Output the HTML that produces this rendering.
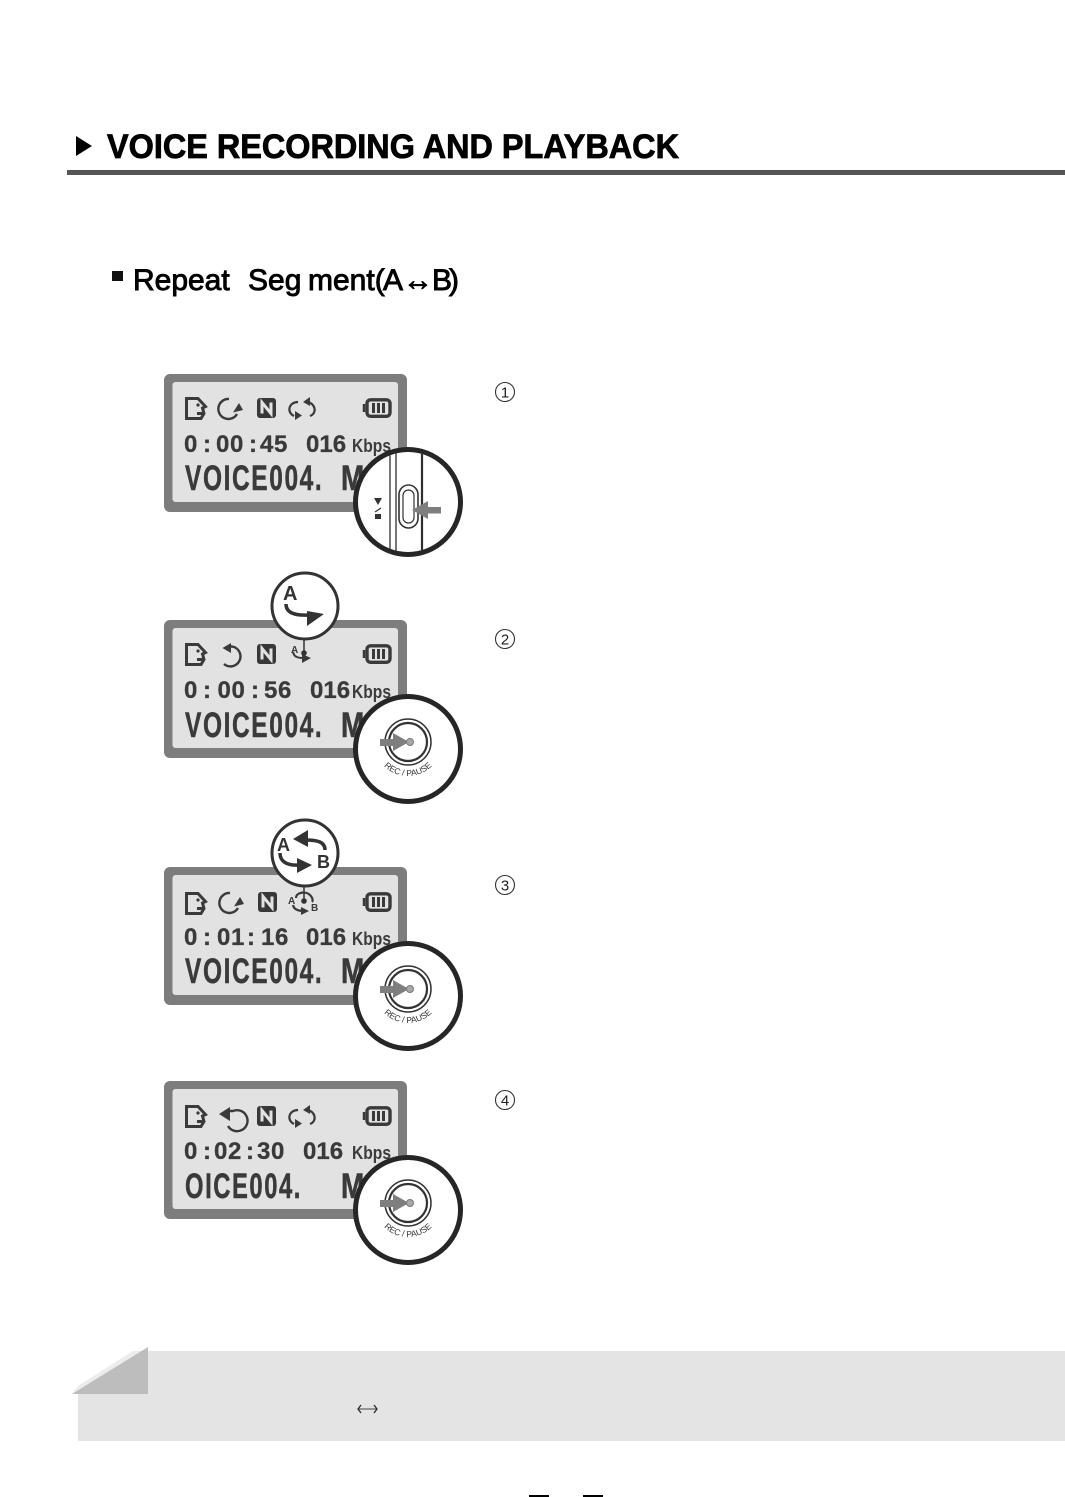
<!DOCTYPE html>
<html><head><meta charset="utf-8"><style>
html,body{margin:0;padding:0;background:#fff;width:1065px;height:1497px;overflow:hidden}
svg{display:block}
text{font-family:"Liberation Sans",sans-serif}
.t{font-weight:bold;font-size:24px;fill:#3a3a3a;stroke:#3a3a3a;stroke-width:.3}
.k{font-weight:bold;font-size:18px;fill:#3c3c3c}
.n{font-weight:bold;font-size:35px;fill:#3a3a3a;stroke:#3a3a3a;stroke-width:.5;letter-spacing:2.3px}
.c{font-size:8.500px;fill:#333;text-anchor:middle}
.num{font-size:15px;fill:#222;text-anchor:middle}
</style></head><body>
<svg width="1065" height="1497" viewBox="0 0 1065 1497" xmlns="http://www.w3.org/2000/svg">
<defs>
<g id="lcd"><rect x="164" y="0" width="243" height="138" rx="6" fill="#7d7d7d"/><rect x="172.500" y="8" width="225.500" height="120" rx="3" fill="#e2e2e2"/></g>
<g id="doc"><path d="M1.500 1.500H13L20.500 9.500L17.500 11L19 16.500L16 21.500H1.500Z" fill="none" stroke="#3a3a3a" stroke-width="3"/><circle cx="13" cy="8" r="1.600" fill="#3a3a3a"/><rect x="12" y="15" width="6" height="3" fill="#3a3a3a"/></g>
<g id="nic"><rect x="0" y="0" width="19" height="20" rx="3" fill="#383838"/><path d="M5 15.500V4.500L14 15.500V4.500" fill="none" stroke="#e2e2e2" stroke-width="3"/></g>
<g id="bat" fill="none" stroke="#3a3a3a"><rect x="4" y="1.800" width="23" height="16.500" rx="3.500" stroke-width="3.400"/><path d="M1 6V14" stroke-width="2.500"/><path d="M10.500 5V15M15.500 5V15M20.500 5V15" stroke-width="3"/></g>
<g id="cw"><path d="M12 1A10 10 0 1 0 20 16" fill="none" stroke="#3a3a3a" stroke-width="2.400"/><path d="M16 14.500L26 12L22 5Z" fill="#3a3a3a"/></g>
<g id="ccw"><path d="M8 3.500H10A10 10 0 1 1 2 21" fill="none" stroke="#3a3a3a" stroke-width="2.400"/><path d="M0.500 5L9 0V10Z" fill="#3a3a3a"/></g>
<g id="loop"><path d="M18 5C27 5 30 16 22 19M10 5C1 5 -2 15 6 19" fill="none" stroke="#3a3a3a" stroke-width="2.200"/><path d="M22 0V9L15 5Z" fill="#3a3a3a"/><path d="M7 14V23L14 18.500Z" fill="#3a3a3a"/></g>
<g id="rec">
<circle cx="408" cy="0" r="52.500" fill="#fff" stroke="#262626" stroke-width="5"/>
<circle cx="408" cy="-7" r="23" fill="#fff" stroke="#333" stroke-width="1.500"/>
<circle cx="408" cy="-7" r="19" fill="#fff" stroke="#333" stroke-width="2.200"/>
<rect x="380" y="-10" width="15" height="7" fill="#7e7e7e"/>
<path d="M393 -16L409 -7L393 2Z" fill="#7e7e7e"/>
<circle cx="410" cy="-7" r="3.500" fill="#a8a8a8" stroke="#777" stroke-width="1"/>
</g>
<path id="arc2" d="M383 765A34 34 0 0 0 433 765" fill="none"/>
<path id="arc3" d="M383 1012A34 34 0 0 0 433 1012" fill="none"/>
<path id="arc4" d="M383 1226A34 34 0 0 0 433 1226" fill="none"/>
<clipPath id="cp1"><circle cx="408" cy="502" r="50"/></clipPath>
</defs>

<!-- header -->
<path d="M76 136L92 146L76 156Z" fill="#000"/>
<text x="107" y="158" font-size="34" font-weight="bold" fill="#000" stroke="#000" stroke-width=".8" textLength="572" lengthAdjust="spacingAndGlyphs">VOICE RECORDING AND PLAYBACK</text>
<rect x="67" y="170" width="998" height="5" fill="#555"/>
<rect x="112" y="271" width="11" height="10" fill="#111"/>
<text y="290" font-size="30" fill="#000" stroke="#000" stroke-width=".9"><tspan x="133">Rep</tspan><tspan x="188">eat</tspan><tspan x="248">Seg</tspan><tspan x="308">ment(</tspan><tspan x="383">A</tspan><tspan x="403">↔</tspan><tspan x="432">B</tspan><tspan x="449">)</tspan></text>

<!-- Panel 1 -->
<use href="#lcd" y="374"/>
<use href="#doc" x="185" y="397"/>
<use href="#cw" x="217" y="398"/>
<use href="#nic" x="257" y="398"/>
<use href="#loop" x="288" y="397"/>
<use href="#bat" x="363" y="398"/>
<text class="t" y="452" x="184 203 216 230 249 260 274">0:00:45</text>
<text class="t" x="306" y="452">016</text>
<text class="k" x="352" y="452" textLength="39" lengthAdjust="spacingAndGlyphs">Kbps</text>
<text class="n" transform="translate(185,490) scale(.7,1)">VOICE004.</text>
<text class="n" x="0" transform="translate(341,490) scale(.8,1)">M</text>
<circle cx="408" cy="502" r="52.500" fill="#fff" stroke="#262626" stroke-width="5"/>
<g clip-path="url(#cp1)" fill="none" stroke="#2e2e2e">
<path d="M390 440V560M396 440V560" stroke-width="1.300"/>
<path d="M422 440V560" stroke-width="2.200"/>
</g>
<rect x="399" y="485" width="19" height="43" rx="9.500" fill="#fff" stroke="#333" stroke-width="1.600"/>
<rect x="403" y="490" width="11" height="33" rx="5.500" fill="none" stroke="#333" stroke-width="1.200"/>
<path d="M374 498H382L378 505Z" fill="#333"/>
<path d="M375 512L381 508" stroke="#333" stroke-width="1.200"/>
<rect x="375" y="514" width="6" height="5" fill="#333"/>
<rect x="425" y="507" width="16" height="6.500" fill="#7e7e7e"/>
<path d="M412 510L428 501V519Z" fill="#7e7e7e"/>

<!-- Panel 2 -->
<use href="#lcd" y="620"/>
<use href="#doc" x="185" y="643"/>
<use href="#ccw" x="222" y="643"/>
<use href="#nic" x="257" y="644"/>
<use href="#bat" x="363" y="644"/>
<text x="291" y="653" font-size="10" font-weight="bold" fill="#3a3a3a">A</text>
<path d="M293 652C294 657 298 658 303 658" fill="none" stroke="#3a3a3a" stroke-width="2"/>
<path d="M302 654L311 658L302 663Z" fill="#3a3a3a"/>
<circle cx="304" cy="653" r="2.800" fill="#333"/>
<path d="M304 638V653" stroke="#333" stroke-width="1.500"/>
<circle cx="305" cy="606" r="33" fill="#fff" stroke="#333" stroke-width="3"/>
<text x="283" y="600" font-size="20" font-weight="bold" fill="#333">A</text>
<path d="M286 604C286 612 293 616 310 615" fill="none" stroke="#333" stroke-width="3.500"/>
<path d="M307 611L324 614L307 626Z" fill="#333"/>
<text class="t" y="698" x="184 203 217.500 231.500 251 264 278">0:00:56</text>
<text class="t" x="310" y="698">016</text>
<text class="k" x="352" y="698" textLength="39" lengthAdjust="spacingAndGlyphs">Kbps</text>
<text class="n" transform="translate(185,737) scale(.7,1)">VOICE004.</text>
<text class="n" transform="translate(341,737) scale(.8,1)">M</text>
<use href="#rec" y="749"/>
<text class="c"><textPath href="#arc2" startOffset="50%">REC / PAUSE</textPath></text>

<!-- Panel 3 -->
<use href="#lcd" y="867"/>
<use href="#doc" x="185" y="892"/>
<use href="#cw" x="218" y="892"/>
<use href="#nic" x="258" y="892"/>
<use href="#bat" x="363" y="892"/>
<text x="288" y="904" font-size="10" font-weight="bold" fill="#3a3a3a">A</text>
<text x="311" y="911" font-size="10" font-weight="bold" fill="#3a3a3a">B</text>
<path d="M296 898C296 892 306 891 310 895C313 898 313 901 312 902M293 905C294 910 299 911 304 911" fill="none" stroke="#3a3a3a" stroke-width="2.200"/>
<path d="M301 907L309 911L301 915Z" fill="#3a3a3a"/>
<circle cx="304" cy="901" r="2.800" fill="#333"/>
<path d="M304 885V901" stroke="#333" stroke-width="1.500"/>
<circle cx="305" cy="853" r="33" fill="#fff" stroke="#333" stroke-width="3"/>
<text x="277" y="851" font-size="18" font-weight="bold" fill="#333">A</text>
<text x="317" y="868" font-size="18" font-weight="bold" fill="#333">B</text>
<path d="M325 850C325 842 318 840 305 840" fill="none" stroke="#333" stroke-width="3.500"/>
<path d="M293 839L308 830V847Z" fill="#333"/>
<path d="M280 853C280 861 286 866 300 865" fill="none" stroke="#333" stroke-width="3.500"/>
<path d="M297 858L312 865L297 873Z" fill="#333"/>
<text class="t" y="945" x="184 203 217 231 247 261 275">0:01:16</text>
<text class="t" x="306" y="945">016</text>
<text class="k" x="352" y="945" textLength="39" lengthAdjust="spacingAndGlyphs">Kbps</text>
<text class="n" transform="translate(185,983) scale(.7,1)">VOICE004.</text>
<text class="n" transform="translate(341,983) scale(.8,1)">M</text>
<use href="#rec" y="996"/>
<text class="c"><textPath href="#arc3" startOffset="50%">REC / PAUSE</textPath></text>

<!-- Panel 4 -->
<use href="#lcd" y="1081"/>
<use href="#doc" x="185" y="1105"/>
<path d="M226 1111H233A10.500 10.500 0 1 1 228 1126" fill="none" stroke="#3a3a3a" stroke-width="2.400"/>
<path d="M219 1114L230 1107V1121Z" fill="#3a3a3a"/>
<use href="#nic" x="257" y="1106"/>
<use href="#loop" x="288" y="1105"/>
<use href="#bat" x="363" y="1106"/>
<text class="t" y="1159" x="184 203 214 228 246 257 271">0:02:30</text>
<text class="t" x="303" y="1159">016</text>
<text class="k" x="352" y="1159" textLength="39" lengthAdjust="spacingAndGlyphs">Kbps</text>
<text class="n" transform="translate(185,1198) scale(.68,1)">OICE004.</text>
<text class="n" transform="translate(341,1198) scale(.8,1)">M</text>
<use href="#rec" y="1210"/>
<text class="c"><textPath href="#arc4" startOffset="50%">REC / PAUSE</textPath></text>

<!-- numbers -->
<g fill="#fff" stroke="#333" stroke-width="1.100">
<circle cx="505" cy="392" r="9.500"/><circle cx="505" cy="639" r="9.500"/><circle cx="505" cy="885" r="9.500"/><circle cx="505" cy="1100" r="9.500"/>
</g>
<text class="num" x="505" y="397.500">1</text>
<text class="num" x="505" y="644.500">2</text>
<text class="num" x="505" y="890.500">3</text>
<text class="num" x="505" y="1105.500">4</text>

<!-- note band -->
<rect x="78" y="1351" width="987" height="90" fill="#e4e4e4"/>
<path d="M70 1350H134L78 1390Z" fill="#fff"/>
<path d="M72 1394L78 1386L133 1351H148V1394Z" fill="#ececec"/>
<path d="M72 1394L148 1347V1394Z" fill="#bdbdbd"/>
<path d="M358 1409H377" stroke="#444" stroke-width="1"/>
<path d="M361 1405L358 1409L361 1413M374 1405L377 1409L374 1413" fill="none" stroke="#222" stroke-width="1.200"/>

<rect x="529" y="1495" width="20" height="2" fill="#000"/>
<rect x="583" y="1495" width="20" height="2" fill="#000"/>
</svg>
</body></html>
